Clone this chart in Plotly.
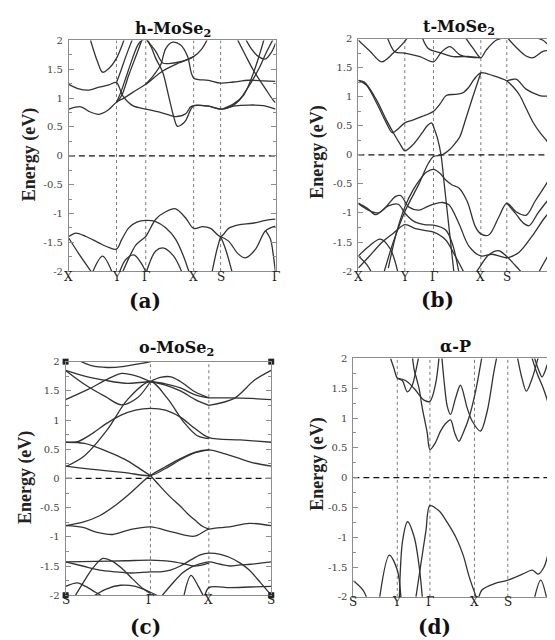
import plotly.graph_objects as go

W, H = 555, 640

# ---------------- data ----------------
Y_TICKS = [-2, -1.5, -1, -0.5, 0, 0.5, 1, 1.5, 2]
Y_TICKTEXT = ["-2", "-1.5", "-1", "-0.5", "0", "0.5", "1", "1.5", "2"]
Y_MINOR = [-1.75, -1.25, -0.75, -0.25, 0.25, 0.75, 1.25, 1.75]

# (a) h-MoSe2
A_TICKS = [0, 47.7, 77, 125, 152, 207]
A_LABELS = ["X", "Y", "Γ", "X", "S", "Γ"]
A_BANDS = [
    ([0, 12, 20, 30, 39, 47.7, 55, 64, 77, 94, 110, 125, 133, 141],
     [0.81, 0.85, 0.77, 0.72, 0.79, 0.93, 1.0, 1.1, 1.24, 1.47, 1.61, 1.72, 1.85, 2.1]),
    ([0, 10, 20, 30, 40, 47.7, 54, 64, 77, 90, 100, 107, 117, 122, 125, 140, 152, 165, 180, 195, 207],
     [1.24, 1.16, 1.14, 1.19, 1.23, 1.27, 1.04, 0.87, 0.81, 0.76, 0.71, 0.68, 0.73, 0.85, 0.87, 0.86, 0.81, 0.86, 0.88, 0.87, 0.81]),
    ([47.7, 52, 57, 63.7, 69, 73, 77, 82, 87, 94, 100, 105, 108.7, 113, 117, 122, 125, 140, 152, 162, 170, 180, 190, 198, 207],
     [0.93, 1.1, 1.35, 1.69, 1.92, 2.0, 2.02, 1.9, 1.69, 1.45, 1.03, 0.68, 0.51, 0.54, 0.61, 0.8, 0.87, 0.86, 0.81, 0.85, 0.95, 1.2, 1.5, 1.8, 2.1]),
    ([77, 85, 92, 97, 104, 112, 119, 125, 140, 152, 165, 180, 195, 207],
     [1.24, 1.4, 1.58, 1.86, 1.97, 1.92, 1.72, 1.35, 1.31, 1.26, 1.28, 1.31, 1.3, 1.29]),
    ([77, 80, 87, 94, 100, 114, 125],
     [2.05, 1.97, 1.81, 1.61, 1.6, 1.64, 1.72]),
    ([20, 28.7, 33.7, 40.3, 47.7, 52, 56],
     [2.1, 1.63, 1.45, 1.52, 1.69, 1.86, 2.05]),
    ([47.7, 52, 57, 62, 65],
     [1.27, 1.47, 1.72, 1.95, 2.08]),
    ([48, 53, 60, 68.7, 74],
     [0.93, 1.05, 1.4, 1.8, 2.05]),
    ([167, 177, 185.3, 197, 204, 207],
     [2.08, 1.74, 1.47, 1.16, 0.98, 0.92]),
    ([155, 165, 175, 183, 190, 196],
     [0.82, 0.9, 1.05, 1.35, 1.7, 2.05]),
    ([176, 183, 190, 197, 203, 207],
     [2.06, 1.85, 1.72, 1.68, 1.8, 1.95]),
    ([0, 7, 17, 30, 40, 47.7, 53, 60, 68, 77, 87, 97, 107, 115, 121],
     [-1.4, -1.34, -1.4, -1.51, -1.59, -1.62, -1.45, -1.25, -1.15, -1.12, -1.14, -1.25, -1.45, -1.75, -2.05]),
    ([53, 61, 67, 72, 77, 87, 97, 107, 117, 125, 134, 142, 152, 160, 170, 184, 197, 207],
     [-2.05, -1.74, -1.55, -1.47, -1.4, -1.1, -0.97, -0.92, -1.08, -1.26, -1.23, -1.26, -1.4, -1.26, -1.2, -1.17, -1.12, -1.1]),
    ([152, 160, 170, 177, 187, 197, 207],
     [-1.4, -1.48, -1.71, -1.77, -1.62, -1.3, -1.22]),
    ([152, 157, 164], [-1.4, -1.62, -2.05]),
    ([143, 148, 152], [-2.05, -1.65, -1.4]),
    ([0, 10, 24], [-1.43, -1.7, -2.05]),
    ([23, 33.7, 44], [-2.05, -1.74, -2.05]),
    ([50, 57, 65, 72, 78], [-2.05, -1.8, -1.72, -1.85, -2.05]),
    ([77, 87, 95, 105, 114], [-2.05, -1.65, -1.6, -1.74, -2.05]),
    ([197, 202, 205, 207.5], [-1.3, -1.45, -1.75, -2.1]),
]

# (b) t-MoSe2
B_TICKS = [0, 46.5, 75.3, 122.7, 148.7, 203]
B_LABELS = ["X", "Y", "Γ", "X", "S", "Γ"]
B_BANDS = [
    ([0, 11.7, 23.3, 35, 45, 50.7], [1.97, 1.78, 1.6, 1.75, 1.92, 2.05]),
    ([28.3, 36.7, 46.5, 61.7, 75.3, 83.3, 91.7, 101.7, 111.7, 122.7],
     [2.05, 1.77, 1.75, 1.69, 1.6, 1.77, 1.86, 1.72, 1.68, 1.67]),
    ([63.3, 70, 83.3, 95, 111.7, 122.7], [2.05, 1.83, 1.75, 1.69, 1.69, 1.67]),
    ([106.7, 115, 122.7, 128, 138, 149], [2.03, 1.83, 1.67, 1.8, 1.97, 2.02]),
    ([149, 158, 168, 175, 185, 195, 203], [2.02, 1.85, 1.7, 1.67, 1.78, 1.8, 1.8]),
    ([175, 185, 192, 198], [2.03, 1.97, 1.88, 2.03]),
    ([0, 6, 18, 28, 36, 42, 46.5, 55, 64, 69, 73.3, 76, 79, 82.8, 86, 89, 92, 95.7, 98],
     [1.28, 1.25, 0.95, 0.6, 0.35, 0.18, 0.07, 0.18, 0.38, 0.5, 0.55, 0.45, 0.3, 0.0, -0.5, -0.97, -1.44, -2.02, -2.4]),
    ([0, 8, 18, 28, 34, 40, 46.5, 55, 64, 75.3, 82, 88, 97, 104, 110, 116, 122.7, 135, 148.7, 155, 161.7, 168, 175, 182, 188.3, 194, 199, 203],
     [1.28, 1.2, 0.9, 0.55, 0.38, 0.45, 0.55, 0.6, 0.66, 0.75, 0.88, 1.02, 1.04, 1.06, 1.15, 1.3, 1.41, 1.36, 1.27, 1.17, 1.02, 0.8, 0.56, 0.38, 0.25, 0.13, 0.3, 0.55]),
    ([148.7, 158, 168, 181.7, 195, 203], [1.27, 1.3, 1.13, 1.02, 0.99, 0.85]),
    ([25.7, 35, 47.3, 60.7, 70, 75.3, 84, 92, 98, 101.7, 106, 111.7, 117, 122.7],
     [-2.02, -1.5, -0.95, -0.5, -0.15, -0.03, 0.0, 0.1, 0.22, 0.31, 0.53, 0.84, 1.12, 1.41]),
    ([30, 38, 46.5, 55, 62, 68, 75.3, 82, 87.3, 94, 100.7, 109, 117.3, 122.7, 130.7, 140.7, 148.7, 158, 168, 177.3, 190, 203],
     [-1.95, -1.35, -0.9, -0.6, -0.42, -0.3, -0.25, -0.32, -0.43, -0.52, -0.57, -0.8, -1.24, -1.36, -1.38, -1.07, -0.83, -0.98, -1.04, -0.79, -0.45, -0.05]),
    ([148.7, 157, 165, 171, 180, 190, 203], [-0.83, -1.0, -1.17, -1.22, -1.0, -0.78, -0.55]),
    ([0, 9, 17.3, 27.3, 37, 42.3, 50.7, 60.7, 68, 75.3, 84, 90.7, 100.7, 110.7, 122.7, 134, 148.7, 160.7, 174, 187.3, 203],
     [-0.83, -0.92, -1.03, -0.9, -0.72, -0.7, -0.9, -0.95, -0.9, -0.85, -0.82, -0.86, -1.18, -1.57, -1.74, -1.71, -1.77, -1.68, -1.4, -1.07, -0.79]),
    ([0, 10, 20, 30, 40, 46.5, 56, 66, 75.3, 87.3, 94, 100.7],
     [-0.84, -0.95, -1.0, -0.88, -0.85, -1.0, -1.15, -1.2, -1.21, -1.29, -1.52, -2.02]),
    ([0, 10.7, 24, 35, 46.5, 57.3, 66, 75.3, 87.3, 97.3, 105.7],
     [-1.95, -1.75, -1.5, -1.35, -1.2, -1.27, -1.3, -1.33, -1.46, -1.75, -2.02]),
    ([0, 9, 14], [-1.74, -1.9, -2.05]),
    ([0, 10, 22, 32, 40], [-1.74, -1.58, -1.45, -1.62, -2.05]),
    ([115, 122.7, 130.7, 140.7, 148.7, 157, 165], [-2.1, -1.9, -1.72, -1.65, -1.75, -1.9, -2.05]),
    ([180.7, 194, 203], [-2.02, -1.63, -1.45]),
]

# (c) o-MoSe2
C_TICKS = [0, 85, 143.5, 206]
C_LABELS = ["S", "Γ", "X", "S"]
C_BANDS = [
    ([0, 17.3, 34, 50.7, 65, 77, 85, 100, 115, 130, 143.5, 160, 176, 190, 206],
     [-0.81, -0.75, -0.64, -0.45, -0.25, -0.06, 0.05, 0.2, 0.34, 0.45, 0.49, 0.42, 0.33, 0.26, 0.21]),
    ([0, 30, 60, 85, 100, 115, 130, 143.5], [0.21, 0.15, 0.1, 0.05, 0.17, 0.32, 0.44, 0.49]),
    ([0, 19, 42, 59, 75, 85], [0.62, 0.6, 0.46, 0.33, 0.16, 0.05]),
    ([0, 12, 25, 40, 55, 70, 85, 100, 115, 130, 143.5, 175, 206],
     [0.62, 0.63, 0.75, 0.93, 1.08, 1.17, 1.2, 1.17, 1.05, 0.85, 0.7, 0.66, 0.62]),
    ([0, 19, 42, 62, 85, 102, 119, 132, 143.5], [0.2, 0.39, 0.84, 1.35, 1.66, 1.37, 0.95, 0.73, 0.68]),
    ([0, 22, 42, 56, 72, 85], [1.35, 1.52, 1.7, 1.8, 1.75, 1.66]),
    ([0, 20, 40, 56, 72, 85], [1.85, 1.6, 1.4, 1.26, 1.38, 1.66]),
    ([0, 20, 40, 60, 85], [1.85, 1.75, 1.68, 1.63, 1.66]),
    ([10, 26, 42, 59, 76, 85, 95], [2.05, 1.93, 1.9, 1.92, 1.97, 2.0, 2.05]),
    ([85, 95, 105.7, 115, 130, 143.5], [1.66, 1.73, 1.74, 1.66, 1.48, 1.38]),
    ([85, 100, 115, 130, 143.5], [1.66, 1.6, 1.5, 1.35, 1.25]),
    ([85, 100, 115, 130, 143.5], [1.66, 1.62, 1.55, 1.43, 1.38]),
    ([143.5, 169, 189, 206], [1.25, 1.37, 1.68, 1.85]),
    ([143.5, 165, 185, 206], [1.38, 1.38, 1.37, 1.35]),
    ([0, 17.3, 30.7, 47.3, 64, 85, 107.3, 129, 143.5, 164, 184, 206],
     [-0.81, -0.84, -0.92, -0.96, -0.88, -0.83, -0.92, -0.99, -0.87, -0.83, -0.77, -0.81]),
    ([85, 95, 105, 114, 122, 130.7, 137, 143.5], [0.05, -0.14, -0.32, -0.46, -0.6, -0.73, -0.82, -0.87]),
    ([0, 30, 60, 85, 105, 118, 128, 135, 143.5], [-1.43, -1.42, -1.41, -1.4, -1.42, -1.46, -1.5, -1.49, -1.45]),
    ([0, 17, 34, 50, 65, 85, 95, 105, 115, 125, 135, 143.5, 155, 164, 175, 184, 195, 206],
     [-1.43, -1.5, -1.57, -1.6, -1.62, -1.6, -1.6, -1.57, -1.5, -1.4, -1.31, -1.28, -1.3, -1.35, -1.45, -1.57, -1.78, -2.0]),
    ([97, 107, 117, 126, 135, 143.5, 155, 165, 175, 185, 195, 206],
     [-2.0, -1.8, -1.62, -1.52, -1.46, -1.43, -1.47, -1.5, -1.48, -1.47, -1.45, -1.43]),
    ([10, 20, 28, 37.3, 47, 57, 67, 77, 85], [-2.0, -1.72, -1.52, -1.37, -1.42, -1.55, -1.72, -1.88, -1.97]),
    ([0, 12, 20, 30, 40], [-1.85, -1.79, -1.85, -1.95, -2.05]),
    ([25, 40, 55, 70, 85, 97], [-2.05, -1.9, -1.83, -1.85, -1.95, -2.05]),
    ([118, 125.6, 133, 139], [-2.05, -1.66, -1.85, -2.05]),
    ([139, 143.5, 165, 185, 206], [-2.05, -1.87, -1.87, -1.86, -1.85]),
]
C_CORNER_K = [0, 0, 206, 206]
C_CORNER_E = [2, -2, 2, -2]

# (d) alpha-P
D_TICKS = [0, 44, 76.7, 121.3, 154.7, 209]
D_LABELS = ["S", "Y", "Γ", "X", "S", "Γ"]
D_BANDS = [
    ([62.7, 67.7, 72.7, 76.7, 86, 94, 102.7, 110, 116, 124],
     [-2.0, -1.44, -0.89, -0.47, -0.56, -0.75, -1.0, -1.3, -1.66, -2.05]),
    ([46, 49.3, 54.3, 61, 66, 69.3], [-2.05, -1.06, -0.74, -1.0, -1.5, -2.05]),
    ([26, 36, 44, 48], [-2.05, -1.3, -1.55, -2.1]),
    ([0, 9.3, 14.3], [-1.73, -1.88, -2.05]),
    ([125, 129, 142.7, 154.7, 169.3, 179.3, 185, 191, 196, 202.7, 209],
     [-2.05, -1.88, -1.77, -1.72, -1.62, -1.55, -1.62, -1.5, -1.22, -0.8, -0.47]),
    ([181, 187.7, 194], [-2.05, -1.72, -2.05]),
    ([59, 61, 63, 66, 69, 72, 74, 76.7, 82, 87.3, 92, 97.3, 101.5, 105.7, 110, 115.7, 122.3, 129],
     [2.05, 1.8, 1.68, 1.48, 1.17, 0.92, 0.75, 0.47, 0.58, 0.78, 0.9, 0.97, 0.75, 0.61, 0.75, 1.0, 1.44, 2.05]),
    ([88.5, 91, 94, 97.3, 102.3, 107.3, 114, 119, 127.3, 134, 140.7, 144],
     [2.05, 1.6, 1.2, 1.06, 1.33, 1.55, 1.17, 0.95, 0.78, 1.11, 1.77, 2.05]),
    ([44, 52.3, 60.7, 70.7, 76.7, 82.3, 86], [1.67, 1.63, 1.5, 1.3, 1.28, 1.57, 2.05]),
    ([37.3, 40.7, 44, 49, 54, 59, 62.3, 65.7], [2.0, 1.83, 1.67, 1.63, 1.44, 1.55, 1.77, 2.05]),
    ([164, 169, 173.3, 179, 182.3, 185.7], [2.05, 1.66, 1.45, 1.66, 1.84, 2.05]),
    ([180.7, 185.7, 189, 194, 197.3], [2.05, 1.8, 1.69, 1.88, 2.05]),
    ([177.3, 184, 190.7, 196, 200.7, 205, 209], [2.1, 1.75, 1.48, 1.2, 0.87, 0.65, 0.5]),
    ([197.3, 204, 209], [2.05, 1.66, 1.28]),
]

TITLES = ["h-MoSe<sub>2</sub>", "t-MoSe<sub>2</sub>", "o-MoSe<sub>2</sub>", "α-P"]
PANEL_TAGS = ["(a)", "(b)", "(c)", "(d)"]
Y_TITLE = "Energy (eV)"

# ---------------- layout geometry (pixels) ----------------
px = lambda x: x / W
py = lambda y: 1 - y / H

PANELS = [
    dict(ticks=A_TICKS, labels=A_LABELS, bands=A_BANDS, box=(61, 268, 27, 262),
         title=(165, 16), tag=(137, 292), ytitle=(21, 143), xlab=268),
    dict(ticks=B_TICKS, labels=B_LABELS, bands=B_BANDS, box=(351, 554, 25, 262),
         title=(452, 14), tag=(430, 291), ytitle=(310, 141), xlab=268),
    dict(ticks=C_TICKS, labels=C_LABELS, bands=C_BANDS, box=(57.7, 263.7, 354.3, 592.3),
         title=(169, 341), tag=(138, 625), ytitle=(17, 472), xlab=597),
    dict(ticks=D_TICKS, labels=D_LABELS, bands=D_BANDS, box=(346, 555, 351, 594),
         title=(448, 339), tag=(427, 625), ytitle=(310, 459), xlab=599),
]

LINE_COLOR = "#333333"
FRAME_COLOR = "#8c8c8c"
TICK_FONT = dict(family="DejaVu Serif", size=10, color="#444444")
XTICK_FONT = dict(family="DejaVu Serif", size=12, color="#222222")

fig = go.Figure()
layout = dict(width=W, height=H, margin=dict(l=0, r=0, t=0, b=0),
              paper_bgcolor="white", plot_bgcolor="white", showlegend=False)
shapes, annotations = [], []

for i, p in enumerate(PANELS):
    n = "" if i == 0 else str(i + 1)
    xa, ya = "x" + n, "y" + n
    x0, x1, y0, y1 = p["box"]
    kmax = p["ticks"][-1]
    layout["xaxis" + n] = dict(
        domain=[px(x0), px(x1)], range=[0, kmax], anchor=ya,
        showticklabels=False, ticks="", showgrid=False, zeroline=False,
        showline=True, linecolor=FRAME_COLOR, linewidth=1, mirror=True,
    )
    layout["yaxis" + n] = dict(
        domain=[py(y1), py(y0)], range=[-2, 2], anchor=xa,
        tickmode="array", tickvals=Y_TICKS, ticktext=Y_TICKTEXT,
        tickfont=TICK_FONT, ticks="inside", ticklen=5, tickcolor=FRAME_COLOR,
        minor=dict(tickmode="array", tickvals=Y_MINOR, ticks="inside",
                   ticklen=3, tickcolor=FRAME_COLOR),
        showgrid=False, zeroline=False, showline=True, linecolor=FRAME_COLOR,
        linewidth=1, mirror="ticks", ticklabelstandoff=3,
    )
    # high-symmetry point labels placed on the x scale
    for kv, lab in zip(p["ticks"], p["labels"]):
        annotations.append(dict(text=lab, x=kv, xref=xa, y=py(p["xlab"]), yref="paper",
                                showarrow=False, xanchor="center", yanchor="middle",
                                font=XTICK_FONT))
    # high-symmetry dotted lines
    for kv in p["ticks"][1:-1]:
        shapes.append(dict(type="line", xref=xa, yref=ya, x0=kv, x1=kv, y0=-2, y1=2,
                           line=dict(color="#7a7a7a", width=1, dash="dot"), layer="below"))
    # Fermi level
    shapes.append(dict(type="line", xref=xa, yref=ya, x0=0, x1=kmax, y0=0, y1=0,
                       line=dict(color="#111111", width=1.2, dash="6px,4px"), layer="below"))
    for k, e in p["bands"]:
        fig.add_trace(go.Scatter(x=k, y=e, mode="lines", xaxis=xa, yaxis=ya,
                                 line=dict(color=LINE_COLOR, width=1.3, shape="spline", smoothing=0.9),
                                 hoverinfo="skip"))
    tx, ty = p["title"]
    annotations.append(dict(text="<b>" + TITLES[i] + "</b>", x=px(tx), y=py(ty), xref="paper", yref="paper",
                            showarrow=False, xanchor="center", yanchor="middle",
                            font=dict(family="DejaVu Serif", size=16, color="#111111")))
    gx, gy = p["tag"]
    annotations.append(dict(text="<b>" + PANEL_TAGS[i] + "</b>", x=px(gx), y=py(gy), xref="paper", yref="paper",
                            showarrow=False, xanchor="center", yanchor="middle",
                            font=dict(family="DejaVu Serif", size=20, color="#111111")))
    ex, ey = p["ytitle"]
    annotations.append(dict(text="<b>" + Y_TITLE + "</b>", x=px(ex), y=py(ey), xref="paper", yref="paper",
                            showarrow=False, xanchor="center", yanchor="middle", textangle=-90,
                            font=dict(family="Liberation Serif", size=18, color="#222222")))

# corner markers in panel (c)
fig.add_trace(go.Scatter(x=C_CORNER_K, y=C_CORNER_E, mode="markers", xaxis="x3", yaxis="y3",
                         marker=dict(symbol="square", size=6, color="#222222"),
                         cliponaxis=False, hoverinfo="skip"))

layout["shapes"] = shapes
layout["annotations"] = annotations
fig.update_layout(**layout)
fig.write_html("out.html")
